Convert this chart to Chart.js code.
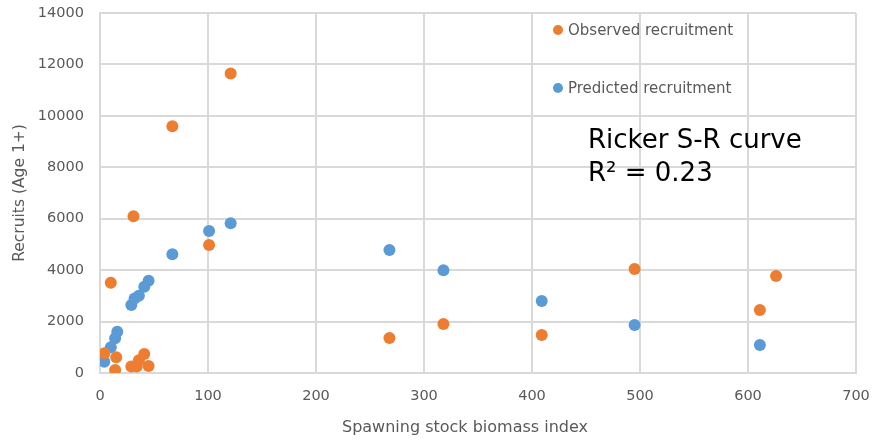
<!DOCTYPE html>
<html>
<head>
<meta charset="utf-8">
<script src="https://cdn.jsdelivr.net/npm/chart.js@4"></script>
<style>
  html, body { margin: 0; padding: 0; background: #fff; }
  #wrap { width: 875px; height: 440px; position: relative; }
</style>
</head>
<body>
<div id="wrap"><canvas id="chart1"></canvas></div>
<script>
/* data */
const observedX = [4, 10, 14, 15, 29, 31, 34, 36, 41, 45, 67, 101, 121, 268, 318, 409, 495, 611, 626];
const observedY = [770, 3510, 120, 610, 250, 6100, 250, 500, 740, 270, 9600, 4980, 11650, 1360, 1910, 1480, 4040, 2450, 3770];
const predictedX = [4, 10, 14, 16, 29, 32, 36, 41, 45, 67, 101, 121, 268, 318, 409, 495, 611];
const predictedY = [440, 1000, 1350, 1600, 2640, 2900, 3000, 3350, 3590, 4620, 5520, 5820, 4780, 4000, 2800, 1870, 1090];
const xTicks = [0, 100, 200, 300, 400, 500, 600, 700];
const yTicks = [0, 2000, 4000, 6000, 8000, 10000, 12000, 14000];
const seriesNames = ['Observed recruitment', 'Predicted recruitment'];
const noteLines = ['Ricker S-R curve', 'R\u00B2 = 0.23'];
const xTitle = 'Spawning stock biomass index';

const FONT = '"DejaVu Sans", Verdana, sans-serif';
const ORANGE = '#ED7D31';
const BLUE = '#5B9BD5';
const GREY = '#595959';
const GRID = '#D9D9D9';

function toPoints(xs, ys) {
  return xs.map((x, i) => ({x: x, y: ys[i]}));
}

/* legend, text note and x title sit off-centre in the original, drawn by hand */
const overlay = {
  id: 'overlay',
  afterDraw(chart) {
    const ctx = chart.ctx;
    ctx.save();
    ctx.font = '15px ' + FONT;
    ctx.textBaseline = 'middle';
    ctx.textAlign = 'left';
    const items = [[ORANGE, 30], [BLUE, 88]];
    items.forEach((it, i) => {
      ctx.fillStyle = it[0];
      ctx.beginPath();
      ctx.arc(558, it[1], 5, 0, Math.PI * 2);
      ctx.fill();
      ctx.fillStyle = GREY;
      ctx.fillText(seriesNames[i], 568, it[1] + 1);
    });
    ctx.fillStyle = '#000';
    ctx.font = '26px ' + FONT;
    ctx.fillText(noteLines[0], 588, 141);
    ctx.fillText(noteLines[1], 588, 174);

    ctx.fillStyle = GREY;
    ctx.font = '16px ' + FONT;
    ctx.textAlign = 'center';
    ctx.fillText(xTitle, 465, 428);
    ctx.restore();
  }
};

const chart1 = document.querySelector('#chart1');

new Chart(chart1, {
  type: 'scatter',
  data: {
    datasets: [{
      label: seriesNames[0],
      data: toPoints(observedX, observedY),
      backgroundColor: ORANGE,
      borderColor: ORANGE,
      pointRadius: 6,
      pointBorderWidth: 0
    }, {
      label: seriesNames[1],
      data: toPoints(predictedX, predictedY),
      backgroundColor: BLUE,
      borderColor: BLUE,
      pointRadius: 6,
      pointBorderWidth: 0
    }]
  },
  options: {
    responsive: true,
    maintainAspectRatio: false,
    animation: false,
    layout: {
      padding: {left: 0, top: 13, right: 19, bottom: 0}
    },
    plugins: {
      legend: { display: false },
      tooltip: { enabled: false }
    },
    scales: {
      x: {
        type: 'linear',
        min: xTicks[0],
        max: xTicks[xTicks.length - 1],
        afterBuildTicks: (axis) => { axis.ticks = xTicks.map(v => ({value: v})); },
        afterFit: (axis) => {
          axis.height = 67;
          axis.paddingLeft = 0;
          axis.paddingRight = 0;
        },
        grid: { color: GRID, lineWidth: 2, drawTicks: false },
        border: { color: GRID, width: 2 },
        ticks: {
          color: GREY,
          padding: 15,
          font: { family: FONT, size: 14.5 },
          callback: (v) => String(v)
        },
        title: { display: false }
      },
      y: {
        type: 'linear',
        min: yTicks[0],
        max: yTicks[yTicks.length - 1],
        afterBuildTicks: (axis) => { axis.ticks = yTicks.map(v => ({value: v})); },
        afterFit: (axis) => {
          axis.width = 100;
          axis.paddingTop = 0;
          axis.paddingBottom = 0;
        },
        grid: { color: GRID, lineWidth: 2, drawTicks: false },
        border: { color: GRID, width: 2 },
        ticks: {
          color: GREY,
          padding: 16,
          font: { family: FONT, size: 14.5 },
          callback: (v) => String(v)
        },
        title: {
          display: true,
          text: 'Recruits (Age 1+)',
          color: GREY,
          padding: { top: 11, bottom: 0 },
          font: { family: FONT, size: 15.5 }
        }
      }
    }
  },
  plugins: [overlay]
});
</script>
</body>
</html>
